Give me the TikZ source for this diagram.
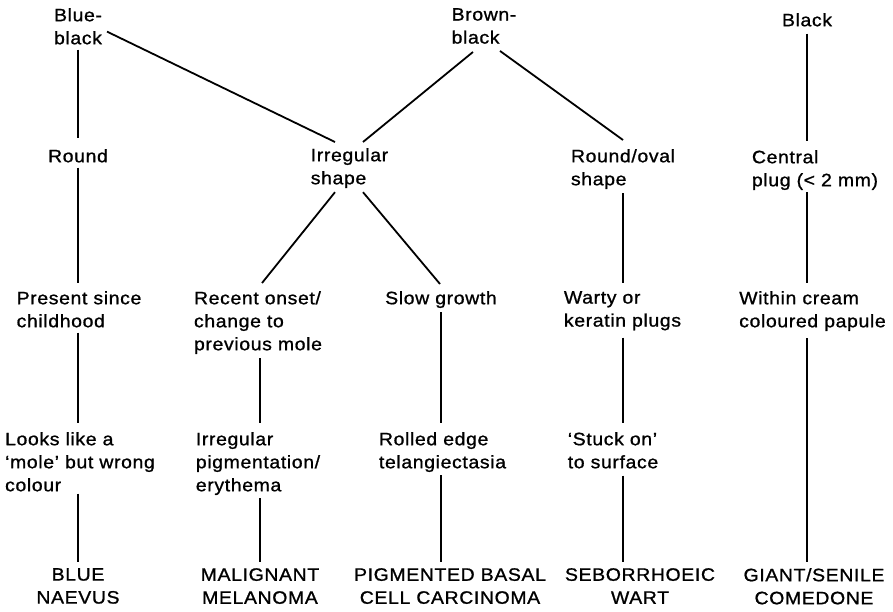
\documentclass[tikz,border=0pt]{standalone}
\usepackage{fontspec}
\setmainfont{Liberation Sans}[FakeStretch=1.08,LetterSpace=3.5,FakeBold=1]
\begin{document}
\begin{tikzpicture}[x=1pt,y=-1pt,
  lbl/.style={anchor=north,align=left,inner sep=0pt,font=\fontsize{18}{23}\selectfont},
  dx/.style={lbl,align=center},
  link/.style={line width=1.8pt}]
\useasboundingbox (0,0) rectangle (893,612);
\fill[white] (0,0) rectangle (893,612);

% colours
\node[lbl] (bb)  at (78,8)    {Blue-\\black};
\node[lbl] (brb) at (484,8)   {Brown-\\black};
\node[lbl] (blk) at (807,13)  {Black};

% shape
\node[lbl] (rnd) at (78,149)    {Round};
\node[lbl] (irr) at (349.5,148) {Irregular\\shape};
\node[lbl] (ron) at (623,149)   {Round/oval\\shape};
\node[lbl] (cen) at (815,150)   {Central\\plug (< 2 mm)};

% history
\node[lbl] (pre) at (79,291)    {Present since\\childhood};
\node[lbl] (rec) at (258,291)   {Recent onset/\\change to\\previous mole};
\node[lbl] (slo) at (441,291)   {Slow growth};
\node[lbl] (war) at (622.5,291) {Warty or\\keratin plugs};
\node[lbl] (wit) at (812.5,291) {Within cream\\coloured papule};

% appearance
\node[lbl] (loo) at (80,432)    {Looks like a\\`mole' but wrong\\colour};
\node[lbl] (irp) at (258,432)   {Irregular\\pigmentation/\\erythema};
\node[lbl] (rol) at (442.5,432) {Rolled edge\\telangiectasia};
\node[lbl] (stu) at (613,432)   {`Stuck on'\\to surface};

% diagnoses
\node[dx] (blu) at (78,568)  {BLUE\\NAEVUS};
\node[dx] (mal) at (260,568) {MALIGNANT\\MELANOMA};
\node[dx] (pbc) at (450,568) {PIGMENTED BASAL\\CELL CARCINOMA};
\node[dx] (seb) at (640,568) {SEBORRHOEIC\\WART};
\node[dx] (gia) at (814,568) {GIANT/SENILE\\COMEDONE};

% branching links
\draw[link] ([shift={(29,-13)}]bb.south) -- ([shift={(-14.5,-6)}]irr.north);
\draw[link] ([shift={(13.5,-6)}]irr.north) -- ([shift={(-11,8)}]brb.south);
\draw[link] ([shift={(16,7)}]brb.south) -- ([shift={(0,-9)}]ron.north);
\draw[link] ([shift={(-14.5,4)}]irr.south) -- ([shift={(4,-8)}]rec.north);
\draw[link] ([shift={(13.5,4)}]irr.south) -- ([shift={(-1,-7)}]slo.north);

% column: blue naevus
\draw[link,shorten <=5pt,shorten >=11pt] (rnd.south |- bb.south) -- (rnd.north);
\draw[link,shorten <=5pt,shorten >=8pt] (rnd.south) -- (rnd.south |- pre.north);
\draw[link,shorten <=5pt,shorten >=9pt] (rnd.south |- pre.south) -- (rnd.south |- loo.north);
\draw[link,shorten <=2pt,shorten >=6pt] (rnd.south |- loo.south) -- (rnd.south |- blu.north);

% column: malignant melanoma
\draw[link,shorten <=4pt,shorten >=9pt] (mal.north |- rec.south) -- (mal.north |- irp.north);
\draw[link,shorten <=3pt,shorten >=6pt] (mal.north |- irp.south) -- (mal.north);

% column: pigmented basal cell carcinoma
\draw[link,shorten <=4pt,shorten >=9pt] (slo.south) -- (slo.south |- rol.north);
\draw[link,shorten <=3pt,shorten >=6pt] (slo.south |- rol.south) -- (slo.south |- pbc.north);

% column: seborrhoeic wart
\draw[link,shorten <=4pt,shorten >=8pt] (ron.south) -- (ron.south |- war.north);
\draw[link,shorten <=7pt,shorten >=9pt] (ron.south |- war.south) -- (ron.south |- stu.north);
\draw[link,shorten <=7pt,shorten >=6pt] (ron.south |- stu.south) -- (ron.south |- seb.north);

% column: giant/senile comedone
\draw[link,shorten <=7pt,shorten >=9pt] (blk.south) -- (blk.south |- cen.north);
\draw[link,shorten <=2pt,shorten >=8pt] (blk.south |- cen.south) -- (blk.south |- wit.north);
\draw[link,shorten <=7pt,shorten >=6pt] (blk.south |- wit.south) -- (blk.south |- gia.north);
\end{tikzpicture}
\end{document}
